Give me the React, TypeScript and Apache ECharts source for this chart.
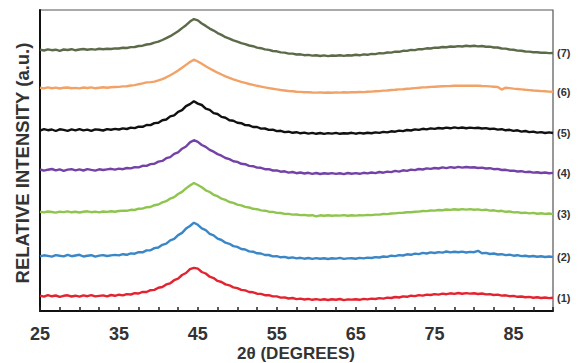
import React, { useEffect, useRef } from "react";
import * as echarts from "echarts";

// 2θ sample grid (degrees)
const THETA = [
  25, 25.5, 26, 26.5, 27, 27.5, 28, 28.5, 29, 29.5,
  30, 30.5, 31, 31.5, 32, 32.5, 33, 33.5, 34, 34.5,
  35, 35.5, 36, 36.5, 37, 37.5, 38, 38.5, 39, 39.5,
  40, 40.5, 41, 41.5, 42, 42.5, 43, 43.5, 44, 44.5,
  45, 45.5, 46, 46.5, 47, 47.5, 48, 48.5, 49, 49.5,
  50, 50.5, 51, 51.5, 52, 52.5, 53, 53.5, 54, 54.5,
  55, 55.5, 56, 56.5, 57, 57.5, 58, 58.5, 59, 59.5,
  60, 60.5, 61, 61.5, 62, 62.5, 63, 63.5, 64, 64.5,
  65, 65.5, 66, 66.5, 67, 67.5, 68, 68.5, 69, 69.5,
  70, 70.5, 71, 71.5, 72, 72.5, 73, 73.5, 74, 74.5,
  75, 75.5, 76, 76.5, 77, 77.5, 78, 78.5, 79, 79.5,
  80, 80.5, 81, 81.5, 82, 82.5, 83, 83.5, 84, 84.5,
  85, 85.5, 86, 86.5, 87, 87.5, 88, 88.5, 89, 89.5,
  90,
];

// relative intensities (a.u.), one array per sample
const S1 = [
  0.4, -0.6, 0.9, -0.3, 0.5, -0.8, 0.2, 0.7, -0.5, 0.3,
  -0.7, 0.6, -0.2, 0.8, -0.4, 0.1, 0.6, -0.3, 1.0, 0.2,
  1.3, 0.6, 1.9, 1.5, 2.8, 2.5, 4.1, 4.0, 5.8, 6.1,
  8.2, 9.0, 11.6, 12.7, 15.8, 17.4, 21.0, 23.0, 26.9, 28.2,
  27.3, 24.0, 22.5, 19.3, 17.9, 15.1, 14.0, 11.6, 10.7, 8.6,
  7.9, 6.1, 5.6, 4.0, 3.7, 2.3, 2.1, 0.8, 0.9, -0.4,
  -0.4, -1.6, -1.4, -2.5, -2.0, -3.1, -2.6, -3.5, -2.9, -3.8,
  -3.1, -3.9, -3.3, -4.0, -3.2, -3.7, -3.0, -4.1, -3.4, -3.6,
  -3.2, -3.8, -2.9, -3.4, -2.6, -3.0, -2.1, -2.6, -1.6, -2.0,
  -1.0, -1.5, -0.4, -0.8, 0.3, -0.1, 0.9, 0.4, 1.4, 1.0,
  1.9, 1.4, 2.4, 1.8, 2.7, 2.1, 3.0, 2.2, 2.9, 2.4,
  2.7, 2.0, 2.5, 1.6, 1.9, 1.0, 1.4, 0.4, 0.7, -0.2,
  0.1, -0.8, -0.5, -1.3, -0.9, -1.7, -1.3, -2.0, -1.5, -2.1,
  -1.8,
];
const S2 = [
  -0.3, 0.7, 0.1, -0.6, 0.9, 0.2, -0.4, 1.1, -0.2, 0.5,
  1.2, -0.5, 0.3, 0.8, -0.7, 0.4, 0.9, 0.0, 0.6, 1.1,
  0.6, 1.8, 1.2, 2.6, 2.3, 3.8, 3.7, 5.6, 5.8, 7.9,
  8.5, 11.2, 12.3, 15.6, 17.1, 20.9, 23.1, 27.4, 30.0, 33.3,
  31.2, 27.6, 25.8, 22.2, 20.6, 17.4, 16.0, 13.3, 12.2, 9.9,
  9.1, 7.0, 6.5, 4.6, 4.3, 2.7, 2.5, 1.0, 1.0, -0.4,
  -0.2, -1.3, -0.9, -2.0, -1.4, -2.4, -1.8, -2.7, -2.0, -2.9,
  -2.1, -2.8, -2.2, -3.0, -2.3, -2.6, -1.9, -2.9, -2.4, -2.2,
  -2.7, -1.9, -2.4, -1.6, -2.0, -1.1, -1.5, -0.5, -0.9, 0.3,
  -0.1, 0.9, 0.5, 1.7, 1.2, 2.4, 1.9, 3.1, 2.5, 3.6,
  3.0, 3.9, 3.4, 4.5, 3.6, 4.3, 3.7, 4.4, 3.5, 4.1,
  3.8, 5.2, 2.7, 3.1, 2.0, 2.5, 1.5, 1.8, 0.9, 1.3,
  0.3, 0.8, -0.1, 0.3, -0.5, 0.0, -0.8, -0.3, -1.0, -0.5,
  -0.9,
];
const S3 = [
  0.2, -0.4, 0.5, 0.0, -0.6, 0.4, -0.1, 0.6, -0.3, 0.2,
  -0.5, 0.3, 0.7, -0.2, 0.4, -0.4, 0.5, 0.1, 0.8, 0.3,
  1.0, 1.4, 1.2, 2.2, 2.0, 3.3, 3.4, 4.8, 5.0, 6.8,
  7.5, 9.6, 10.8, 13.4, 14.9, 18.0, 20.1, 23.6, 26.5, 29.0,
  27.0, 24.8, 21.7, 20.0, 17.2, 15.8, 13.3, 12.1, 10.0, 9.1,
  7.4, 6.6, 5.1, 4.5, 3.2, 2.8, 1.6, 1.3, 0.3, 0.1,
  -0.9, -1.0, -1.9, -1.9, -2.6, -2.5, -3.1, -2.9, -3.5, -3.2,
  -4.4, -3.3, -3.8, -3.2, -3.7, -3.4, -3.6, -3.1, -3.7, -3.3,
  -3.6, -3.2, -3.4, -2.9, -3.1, -2.6, -2.6, -2.0, -2.1, -1.5,
  -1.4, -0.9, -0.8, -0.3, -0.2, 0.3, 0.4, 1.0, 0.9, 1.5,
  1.4, 2.0, 1.8, 2.5, 2.1, 2.8, 2.3, 2.9, 2.4, 2.9,
  2.3, 2.6, 1.9, 2.3, 1.4, 1.7, 0.8, 1.2, 0.2, 0.5,
  -0.4, -0.1, -1.0, -0.6, -1.4, -0.9, -1.7, -1.3, -1.9, -1.5,
  -2.1,
];
const S4 = [
  0.5, -0.7, 0.3, 1.0, -0.4, 0.6, -0.9, 0.4, 0.8, -0.3,
  0.6, -0.5, 0.9, 0.1, -0.6, 0.7, 0.0, 0.6, 1.2, 0.3,
  1.4, 0.8, 2.0, 1.6, 2.9, 2.6, 4.2, 4.1, 5.9, 6.2,
  8.4, 9.1, 11.8, 12.9, 16.1, 17.6, 21.3, 23.5, 27.6, 29.8,
  28.1, 25.0, 23.1, 20.1, 18.3, 15.9, 14.3, 12.0, 10.9, 8.8,
  8.1, 6.2, 5.8, 4.1, 3.8, 2.4, 2.2, 0.8, 0.9, -0.5,
  -0.4, -1.7, -1.3, -2.6, -2.0, -3.2, -2.5, -3.5, -2.8, -3.9,
  -3.0, -4.0, -3.2, -3.8, -3.1, -3.9, -3.3, -4.1, -3.0, -3.7,
  -3.1, -3.8, -2.8, -3.4, -2.5, -3.1, -2.0, -2.7, -1.6, -2.1,
  -0.9, -1.6, -0.3, -0.9, 0.4, -0.1, 1.0, 0.5, 1.6, 1.1,
  2.0, 1.5, 2.6, 1.9, 2.9, 2.2, 3.1, 2.4, 3.0, 2.5,
  2.8, 2.0, 2.4, 1.5, 1.8, 0.8, 1.1, 0.0, 0.2, -0.7,
  -0.6, -1.5, -1.2, -2.1, -1.8, -2.6, -2.2, -3.0, -2.5, -3.2,
  -2.9,
];
const S5 = [
  -0.6, 0.8, -0.2, 0.5, -1.0, 0.7, 0.1, -0.8, 0.6, -0.3,
  0.9, -0.4, 0.4, -0.9, 0.6, 0.2, -0.5, 0.9, 0.3, 1.1,
  0.5, 1.6, 1.0, 2.4, 1.9, 3.4, 3.2, 5.0, 4.9, 6.9,
  7.3, 9.8, 10.5, 13.6, 14.6, 18.2, 19.8, 23.9, 25.9, 28.8,
  26.4, 25.0, 21.4, 20.2, 16.9, 16.0, 13.1, 12.3, 9.8, 9.2,
  7.2, 6.8, 4.9, 4.7, 3.0, 3.0, 1.4, 1.5, 0.1, 0.3,
  -1.1, -0.8, -2.1, -1.7, -2.8, -2.2, -3.3, -2.6, -3.6, -2.9,
  -3.8, -3.0, -3.9, -3.1, -3.6, -2.9, -3.8, -3.2, -3.5, -2.8,
  -3.7, -2.9, -3.5, -2.7, -3.2, -2.4, -2.9, -1.9, -2.4, -1.3,
  -1.7, -0.6, -1.1, 0.0, -0.5, 0.6, 0.1, 1.2, 0.6, 1.6,
  1.1, 2.0, 1.5, 2.4, 1.7, 2.6, 1.9, 2.5, 1.8, 2.4,
  1.9, 2.3, 1.5, 1.9, 1.0, 1.4, 0.4, 0.8, -0.3, 0.2,
  -0.9, -0.3, -1.6, -1.0, -2.1, -1.6, -2.6, -2.1, -3.0, -2.4,
  -3.0,
];
const S6 = [
  0.3, -0.4, 0.6, -0.2, 0.4, -0.5, 0.2, 0.5, -0.3, 0.1,
  -0.4, 0.5, 0.0, 0.6, -0.3, 0.3, 0.8, 0.2, 0.7, 1.0,
  1.1, 1.6, 1.8, 2.5, 2.9, 3.8, 4.6, 5.6, 5.9, 6.4,
  7.6, 8.9, 10.7, 12.8, 15.0, 17.5, 20.2, 23.1, 26.0, 28.3,
  26.5, 24.2, 21.8, 19.5, 17.4, 15.3, 13.5, 11.7, 10.2, 8.7,
  7.4, 6.2, 5.1, 4.0, 3.1, 2.2, 1.4, 0.6, -0.1, -0.8,
  -1.4, -2.0, -2.5, -3.0, -3.3, -3.7, -3.9, -4.2, -4.3, -4.5,
  -4.6, -4.4, -4.7, -4.5, -4.8, -4.4, -4.6, -4.3, -4.5, -4.2,
  -4.3, -4.0, -4.1, -3.7, -3.6, -3.2, -3.1, -2.6, -2.5, -2.0,
  -1.8, -1.4, -1.2, -0.7, -0.5, -0.1, 0.2, 0.6, 0.8, 1.1,
  1.3, 1.5, 1.7, 1.9, 2.0, 2.2, 2.3, 2.4, 2.3, 2.4,
  2.2, 2.3, 2.0, 1.9, 1.6, 1.3, 1.0, -1.6, 0.3, -0.1,
  -0.6, -1.0, -1.4, -1.8, -2.1, -2.5, -2.8, -3.1, -3.3, -3.6,
  -3.8,
];
const S7 = [
  0.4, -0.5, 0.7, -0.2, 0.3, -0.8, 0.5, 0.0, 0.8, -0.3,
  0.5, 1.0, 0.2, 0.9, 0.4, 1.2, 0.7, 1.3, 1.0, 1.6,
  1.5, 2.2, 2.0, 2.9, 3.0, 4.0, 4.3, 5.5, 6.0, 7.4,
  8.3, 10.0, 11.9, 13.8, 16.3, 18.7, 21.9, 24.8, 28.4, 30.9,
  29.6, 26.5, 24.1, 21.4, 19.4, 16.9, 15.1, 12.8, 11.4, 9.6,
  8.4, 6.8, 5.9, 4.5, 3.8, 2.4, 1.8, 0.6, 0.1, -1.0,
  -1.3, -2.4, -2.6, -3.6, -3.6, -4.5, -4.3, -5.2, -4.9, -5.6,
  -5.3, -6.0, -5.4, -6.1, -5.5, -5.8, -5.2, -5.9, -5.3, -5.5,
  -4.8, -5.3, -4.4, -4.8, -3.9, -4.1, -3.2, -3.4, -2.5, -2.6,
  -1.7, -1.8, -0.8, -0.9, 0.1, -0.1, 0.9, 0.8, 1.7, 1.5,
  2.4, 2.2, 3.0, 2.8, 3.5, 3.2, 3.9, 3.5, 4.2, 3.7,
  4.3, 3.6, 4.0, 3.2, 3.4, 2.5, 2.5, 1.5, 1.4, 0.5,
  0.2, -0.6, -0.8, -1.5, -1.6, -2.2, -2.2, -2.8, -2.6, -3.1,
  -3.0,
];

const SERIES_VALUES = [S1, S2, S3, S4, S5, S6, S7];
const SERIES_NAMES = ["(1)", "(2)", "(3)", "(4)", "(5)", "(6)", "(7)"];
// vertical stacking offsets of each trace (a.u.)
const OFFSETS = [15, 55, 99, 141, 181, 223, 261];
const COLORS = ["#e3232f", "#3a86c6", "#8fc54f", "#7442a6", "#111111", "#f2a266", "#5b6a48"];
const X_TICK_LABELS = [25, 35, 45, 55, 65, 75, 85];
const X_TITLE = "2θ (DEGREES)";
const Y_TITLE = "RELATIVE INTENSITY (a.u.)";

export default function App() {
  const ref = useRef<HTMLDivElement>(null);
  useEffect(() => {
    if (!ref.current) return;
    const chart = echarts.init(ref.current, null, { renderer: "svg" });
    const sans = "'Liberation Sans', Arial, sans-serif";
    const series = SERIES_VALUES.map((vals, k) => ({
      type: "line",
      name: SERIES_NAMES[k],
      data: THETA.map((t, i) => [t, vals[i] + OFFSETS[k]]),
      showSymbol: false,
      symbol: "none",
      lineStyle: { color: COLORS[k], width: 2.4 },
      itemStyle: { color: COLORS[k] },
      endLabel: {
        show: true,
        formatter: SERIES_NAMES[k],
        color: "#333",
        fontSize: 11,
        fontWeight: "bold",
        fontFamily: sans,
        distance: 4,
      },
      z: 3,
    }));
    chart.setOption({
      animation: false,
      backgroundColor: "#ffffff",
      grid: {
        left: 40,
        right: 26,
        top: 10,
        bottom: 52,
        show: true,
        borderColor: "#555",
        borderWidth: 1.2,
      },
      xAxis: {
        type: "value",
        min: 25,
        max: 90,
        interval: 2.5,
        axisLine: { show: true, onZero: false, lineStyle: { color: "#111", width: 2 } },
        axisTick: { show: true, inside: true, length: 4, lineStyle: { color: "#222", width: 1.5 } },
        splitLine: { show: false },
        axisLabel: {
          color: "#333",
          fontSize: 18,
          fontWeight: "bold",
          fontFamily: sans,
          margin: 14,
          formatter: (v: number) =>
            X_TICK_LABELS.indexOf(Math.round(v * 10) / 10) >= 0 ? String(v) : "",
        },
      },
      yAxis: {
        type: "value",
        min: 0,
        max: 301,
        axisLine: { show: true, lineStyle: { color: "#111", width: 2 } },
        axisTick: { show: false },
        axisLabel: { show: false },
        splitLine: { show: false },
      },
      graphic: [
        {
          type: "text",
          x: 296,
          y: 353,
          style: {
            text: X_TITLE,
            fill: "#333",
            font: `bold 17px ${sans}`,
            align: "center",
            verticalAlign: "middle",
          },
        },
        {
          type: "text",
          x: 22,
          y: 163,
          rotation: Math.PI / 2,
          style: {
            text: Y_TITLE,
            fill: "#333",
            font: `bold 18.5px ${sans}`,
            align: "center",
            verticalAlign: "middle",
          },
        },
      ],
      series,
    });
    return () => chart.dispose();
  }, []);
  return <div ref={ref} style={{ position: "fixed", left: 0, top: 0, width: 579, height: 363 }} />;
}
